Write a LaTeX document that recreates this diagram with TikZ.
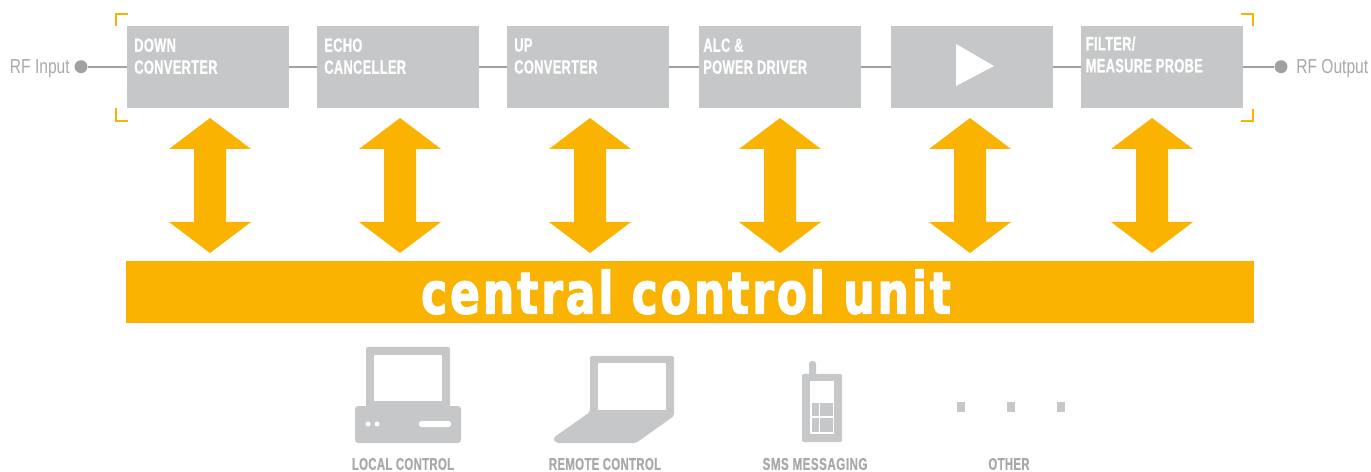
\documentclass[tikz,border=0pt]{standalone}
\usepackage{fontspec}
\setmainfont{Liberation Sans}
\newfontfamily\boxfont[FakeStretch=0.66,FakeBold=0.7,LetterSpace=2]{Liberation Sans}
\newfontfamily\smsfont[FakeStretch=0.68,FakeBold=0.7,LetterSpace=2.5]{Liberation Sans}
\newfontfamily\rffont[FakeStretch=0.77]{Liberation Sans}
\newfontfamily\busfont[FakeStretch=0.76,FakeBold=2,LetterSpace=5]{DejaVu Sans}
\definecolor{boxgrey}{HTML}{C6C7C8}
\definecolor{linegrey}{HTML}{A0A1A3}
\definecolor{textgrey}{HTML}{A7A9AC}
\definecolor{ccuorange}{HTML}{FAB300}
\newcommand{\pxu}{*0.5669pt}
\tikzset{
  block/.style={fill=boxgrey, inner sep=0pt, minimum width=162\pxu, minimum height=82\pxu},
  blocklabel/.style={text=white, anchor=north west, inner sep=0pt, align=left, font=\boxfont\bfseries\fontsize{11}{12.5}\selectfont},
  iconlabel/.style={text=textgrey, inner sep=0pt, font=\boxfont\bfseries\fontsize{9.8}{11}\selectfont},
  rflabel/.style={text=textgrey, inner sep=0pt, font=\rffont\fontsize{11.5}{13}\selectfont},
  rfdot/.style={fill=linegrey, circle, inner sep=0pt, minimum size=13\pxu},
  wire/.style={draw=linegrey, line width=1pt},
  corner/.style={draw=ccuorange, line width=0.8pt},
}
\begin{document}
\begin{tikzpicture}[x=0.02cm, y=-0.02cm]
\useasboundingbox (0,0) rectangle (1371,472);

% the six blocks of the signal path
\foreach \n/\x in {down/208, echo/398, up/588, alc/780, amp/972, filter/1162} {
    \node[block] (\n) at (\x,66.7) {};
}

% input and output
\node[rfdot] (rfin) at (81,66.7) {};
\node[rfdot] (rfout) at (1281,66.7) {};
\node[rflabel, anchor=east] (rfinlabel) at (70,69) {RF Input};
\node[rflabel, anchor=west] (rfoutlabel) at (1296,69) {RF Output};

% the signal path
\draw[wire] (rfin) -- (down);
\draw[wire] (down) -- (echo);
\draw[wire] (echo) -- (up);
\draw[wire] (up) -- (alc);
\draw[wire] (alc) -- (amp);
\draw[wire] (amp) -- (filter);
\draw[wire] (filter) -- (rfout);

% labels inside the blocks
\node[blocklabel] (downtext) at (134,38) {DOWN\\CONVERTER};
\node[blocklabel] (echotext) at (324,38) {ECHO\\CANCELLER};
\node[blocklabel] (uptext) at (514,38) {UP\\CONVERTER};
\node[blocklabel] (alctext) at (703,38) {ALC \&\\POWER DRIVER};
\node[blocklabel] (filtertext) at (1085.5,36) {FILTER/\\MEASURE PROBE};
\fill[white] (956,44) -- (994,66) -- (956,86) -- cycle;

% corner marks
\draw[corner] (116,26) -- (116,14) -- (128,14);
\draw[corner] (116,108) -- (116,121) -- (128,121);
\draw[corner] (1241,14) -- (1253,14) -- (1253,26);
\draw[corner] (1241,121) -- (1253,121) -- (1253,109);

% double arrows down to the control unit
\foreach \x in {210,400,590,780,970,1152} {
    \fill[ccuorange] (\x,118) -- (\x+41,149) -- (\x+16,149) -- (\x+16,222) -- (\x+41,222)
        -- (\x,253) -- (\x-41,222) -- (\x-16,222) -- (\x-16,149) -- (\x-41,149) -- cycle;
}

% control unit
\fill[ccuorange] (126,261) rectangle (1254,323);
\node[text=white, inner sep=0pt, font=\busfont\bfseries\fontsize{33}{36}\selectfont] (ccu) at (686,292) {central control unit};

% local control
\fill[boxgrey, rounded corners=2\pxu] (366,347) rectangle (450,412);
\fill[white] (374,355) rectangle (442,401);
\fill[boxgrey, rounded corners=3\pxu] (355,406) rectangle (461,443);
\fill[white] (368,424) circle (2.5);
\fill[white] (377,424) circle (2.5);
\fill[white, rounded corners=2.5\pxu] (419,421) rectangle (451,427);
\node[iconlabel] (local) at (403,464) {LOCAL CONTROL};

% remote control
\fill[boxgrey, rounded corners=2\pxu] (590,356) -- (674,356) -- (674,416) -- (636,443) -- (556,443)
    -- (553,438) -- (590,412) -- cycle;
\fill[white] (598,363) rectangle (666,410);
\node[iconlabel] (remote) at (605,464) {REMOTE CONTROL};

% sms messaging
\fill[boxgrey, rounded corners=3\pxu] (809,376) -- (809,361) -- (816,361) -- (816,376) -- cycle;
\fill[boxgrey, rounded corners=2\pxu] (802,374) rectangle (842,442);
\fill[white] (810,381) rectangle (834,434);
\foreach \xa/\xb in {812/818.5, 820/833} {
    \foreach \ya/\yb in {403/416, 418/432} {
        \fill[boxgrey] (\xa,\ya) rectangle (\xb,\yb);
    }
}
\node[iconlabel, font=\smsfont\bfseries\fontsize{9.8}{11}\selectfont] (sms) at (815,464) {SMS MESSAGING};

% other
\foreach \x in {957,1007,1057} {
    \fill[boxgrey] (\x,402) rectangle (\x+8,412);
}
\node[iconlabel] (other) at (1009,464) {OTHER};
\end{tikzpicture}
\end{document}
